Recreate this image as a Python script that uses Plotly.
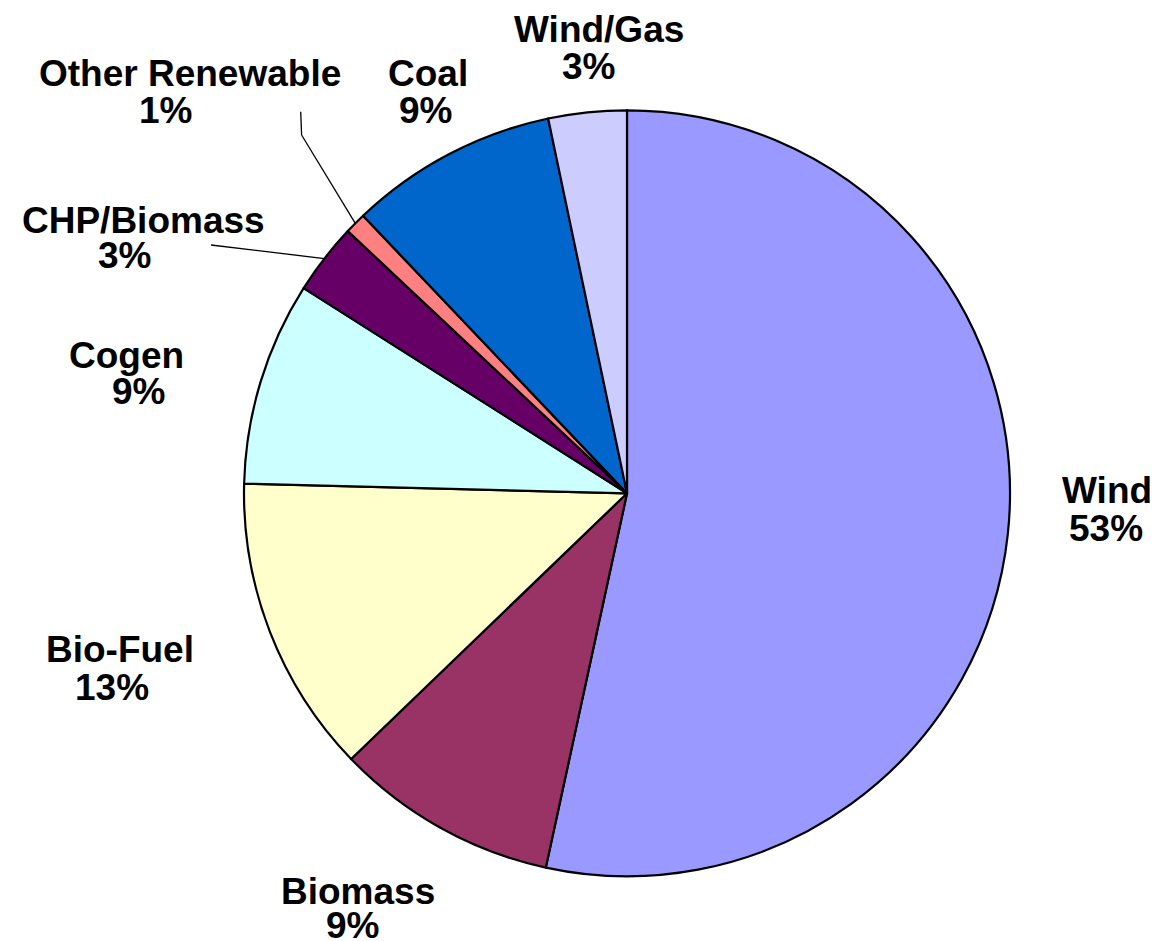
import math
import plotly.graph_objects as go

# ---- data ----
labels = ["Wind", "Biomass", "Bio-Fuel", "Cogen", "CHP/Biomass",
          "Other Renewable", "Coal", "Wind/Gas"]
values = [53.4, 9.4, 12.6, 8.6, 3.0, 0.9, 8.8, 3.3]
colors = ["#9999FF", "#993366", "#FFFFCC", "#CCFFFF", "#660066",
          "#FF8080", "#0066CC", "#CCCCFF"]

# ---- layout (pixel positions in the window; page body has an 8px margin) ----
OFF = 8
W, H = 1163 - OFF, 941 - OFF
CX, CY, R = 627, 493.3, 383
label_pos = {
    "Wind":            ((1107, 487), (1106, 525)),
    "Biomass":         ((358, 888), (352, 922)),
    "Bio-Fuel":        ((120, 646), (112, 684)),
    "Cogen":           ((126, 352), (138, 388)),
    "CHP/Biomass":     ((143, 217), (124, 253)),
    "Other Renewable": ((190, 71), (165, 108)),
    "Coal":            ((428, 70), (425, 108)),
    "Wind/Gas":        ((599, 27), (588, 64)),
}
leader_start = {
    "Other Renewable": [(300.7, 111.7), (301.6, 135)],
    "CHP/Biomass": [(211, 245)],
}
FONT = dict(family="Liberation Sans, Arial, sans-serif", size=37, color="black")


def px(x, y):
    return (x - OFF) / W, 1 - (y - OFF) / H


fig = go.Figure(go.Pie(
    labels=labels, values=values, sort=False, direction="clockwise",
    rotation=0, textinfo="none", hoverinfo="none", showlegend=False,
    marker=dict(colors=colors, line=dict(color="black", width=2.2)),
    domain=dict(x=[(CX - OFF - R) / W, (CX - OFF + R) / W],
                y=[(H - (CY - OFF) - R) / H, (H - (CY - OFF) + R) / H]),
))

total = sum(values)
annotations = []
shapes = []
cum = 0.0
for name, v in zip(labels, values):
    mid = (cum + v / 2) / total * 2 * math.pi
    cum += v
    pct = f"{round(v / total * 100)}%"
    (nx, ny), (qx, qy) = label_pos[name]
    for text, (x, y) in ((f"<b>{name}</b>", (nx, ny + 3)), (f"<b>{pct}</b>", (qx, qy + 3))):
        ax, ay = px(x, y)
        annotations.append(dict(text=text, x=ax, y=ay, xref="paper", yref="paper",
                                showarrow=False, xanchor="center", yanchor="middle",
                                font=FONT))
    if name in leader_start:
        ex, ey = CX + R * math.sin(mid), CY - R * math.cos(mid)
        pts = leader_start[name] + [(ex, ey)]
        for (x0, y0), (x1, y1) in zip(pts[:-1], pts[1:]):
            a0, b0 = px(x0, y0)
            a1, b1 = px(x1, y1)
            shapes.append(dict(type="line", xref="paper", yref="paper",
                               x0=a0, y0=b0, x1=a1, y1=b1,
                               line=dict(color="black", width=1.3)))

fig.update_layout(
    width=W, height=H, autosize=False,
    margin=dict(l=0, r=0, t=0, b=0),
    paper_bgcolor="white", plot_bgcolor="white",
    annotations=annotations, shapes=shapes,
)
fig.write_html("out.html")
